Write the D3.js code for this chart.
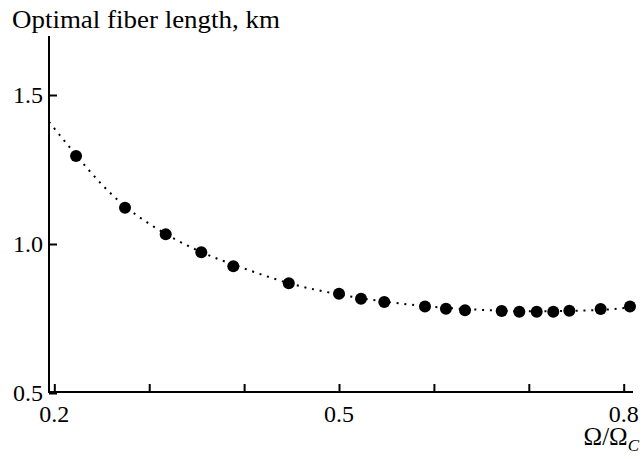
<!DOCTYPE html>
<html>
<head>
<meta charset="utf-8">
<script src="https://cdn.jsdelivr.net/npm/d3@7"></script>
</head>
<body style="margin:0;background:#fff">
<svg id="chart" width="644" height="459"></svg>
<script>
// Measured points
const pointX = [0.2229, 0.2745, 0.3174, 0.3549, 0.3886, 0.4471, 0.5000, 0.5232, 0.5477, 0.5906,
                0.6127, 0.6328, 0.6714, 0.6900, 0.7083, 0.7258, 0.7427, 0.7757, 0.8066];
const pointY = [1.295, 1.122, 1.033, 0.972, 0.925, 0.868, 0.833, 0.816, 0.805, 0.790,
                0.783, 0.778, 0.775, 0.773, 0.773, 0.773, 0.776, 0.782, 0.790];
// Fitted (dotted) curve
const fitX = [0.1944, 0.22, 0.25, 0.275, 0.30, 0.325, 0.35, 0.40, 0.45, 0.50, 0.55, 0.60, 0.65, 0.70, 0.75, 0.80, 0.8098];
const fitY = [1.41, 1.31, 1.20, 1.125, 1.068, 1.02, 0.98, 0.918, 0.866, 0.831, 0.806, 0.789, 0.779, 0.774, 0.776, 0.785, 0.789];
// Ticks
const xTicks = [0.2, 0.3, 0.4, 0.5, 0.6, 0.7, 0.8];
const xTickLabels = ["0.2", "", "", "0.5", "", "", "0.8"];
const yTicks = [0.5, 1.0, 1.5];
const yTickLabels = ["0.5", "1.0", "1.5"];

const FONT = "Liberation Serif";

const svg = d3.select("#chart");
const x = d3.scaleLinear().domain([0.1944, 0.8098]).range([49, 633]);
const y = d3.scaleLinear().domain([0.5, 1.5]).range([393, 95]);
const axisY = 392;

// title (fixed horizontal stretch to match the reference width)
svg.append("text")
  .attr("x", 0).attr("y", 0)
  .attr("transform", "translate(12,27.5) scale(1.1,1)")
  .attr("font-family", FONT)
  .attr("font-size", 24.5)
  .text("Optimal fiber length, km");

// y tick labels
yTicks.forEach((v, i) => {
  svg.append("text")
    .attr("x", 43).attr("y", y(v) + 8)
    .attr("text-anchor", "end")
    .attr("font-family", FONT).attr("font-size", 24)
    .text(yTickLabels[i]);
});

// x tick labels
xTicks.forEach((v, i) => {
  if (!xTickLabels[i]) return;
  svg.append("text")
    .attr("x", x(v)).attr("y", 421.5)
    .attr("text-anchor", "middle")
    .attr("font-family", FONT).attr("font-size", 24)
    .text(xTickLabels[i]);
});

// x axis title
const xt = svg.append("text").attr("x", 639).attr("y", 445)
  .attr("font-family", FONT)
  .attr("text-anchor", "end").attr("font-size", 25);
xt.append("tspan").text("Ω/Ω");
xt.append("tspan").attr("font-size", 17).attr("font-style", "italic").attr("dy", 6).text("C");

// y axis
const yAxis = d3.axisRight(y).tickValues(yTicks).tickFormat(() => "").tickSize(8).tickSizeOuter(0);
const gy = svg.append("g").attr("transform", "translate(49,0)").call(yAxis);
gy.select(".domain").remove();
gy.selectAll("text").remove();
gy.selectAll(".tick line").attr("stroke", "#000").attr("stroke-width", 2);
svg.append("line").attr("x1", 49).attr("x2", 49).attr("y1", 36).attr("y2", 393)
  .attr("stroke", "#000").attr("stroke-width", 2);

// x axis
const xAxis = d3.axisTop(x).tickValues(xTicks).tickFormat(() => "").tickSize(8).tickSizeOuter(0);
const gx = svg.append("g").attr("transform", `translate(0,${axisY})`).call(xAxis);
gx.select(".domain").remove();
gx.selectAll("text").remove();
gx.selectAll(".tick line").attr("stroke", "#000").attr("stroke-width", 2);
svg.append("line").attr("x1", 48).attr("x2", 633).attr("y1", axisY).attr("y2", axisY)
  .attr("stroke", "#000").attr("stroke-width", 2);

// dotted fit curve
const fitData = fitX.map((v, i) => [v, fitY[i]]);
svg.append("path")
  .datum(fitData)
  .attr("d", d3.line().x(d => x(d[0])).y(d => y(d[1])).curve(d3.curveMonotoneX))
  .attr("fill", "none").attr("stroke", "#000")
  .attr("stroke-width", 2).attr("stroke-dasharray", "2 5.8");

// points
svg.selectAll(".pt").data(pointX).enter().append("circle")
  .attr("class", "pt")
  .attr("cx", d => x(d)).attr("cy", (d, i) => y(pointY[i]))
  .attr("r", 6).attr("fill", "#000");
</script>
</body>
</html>
